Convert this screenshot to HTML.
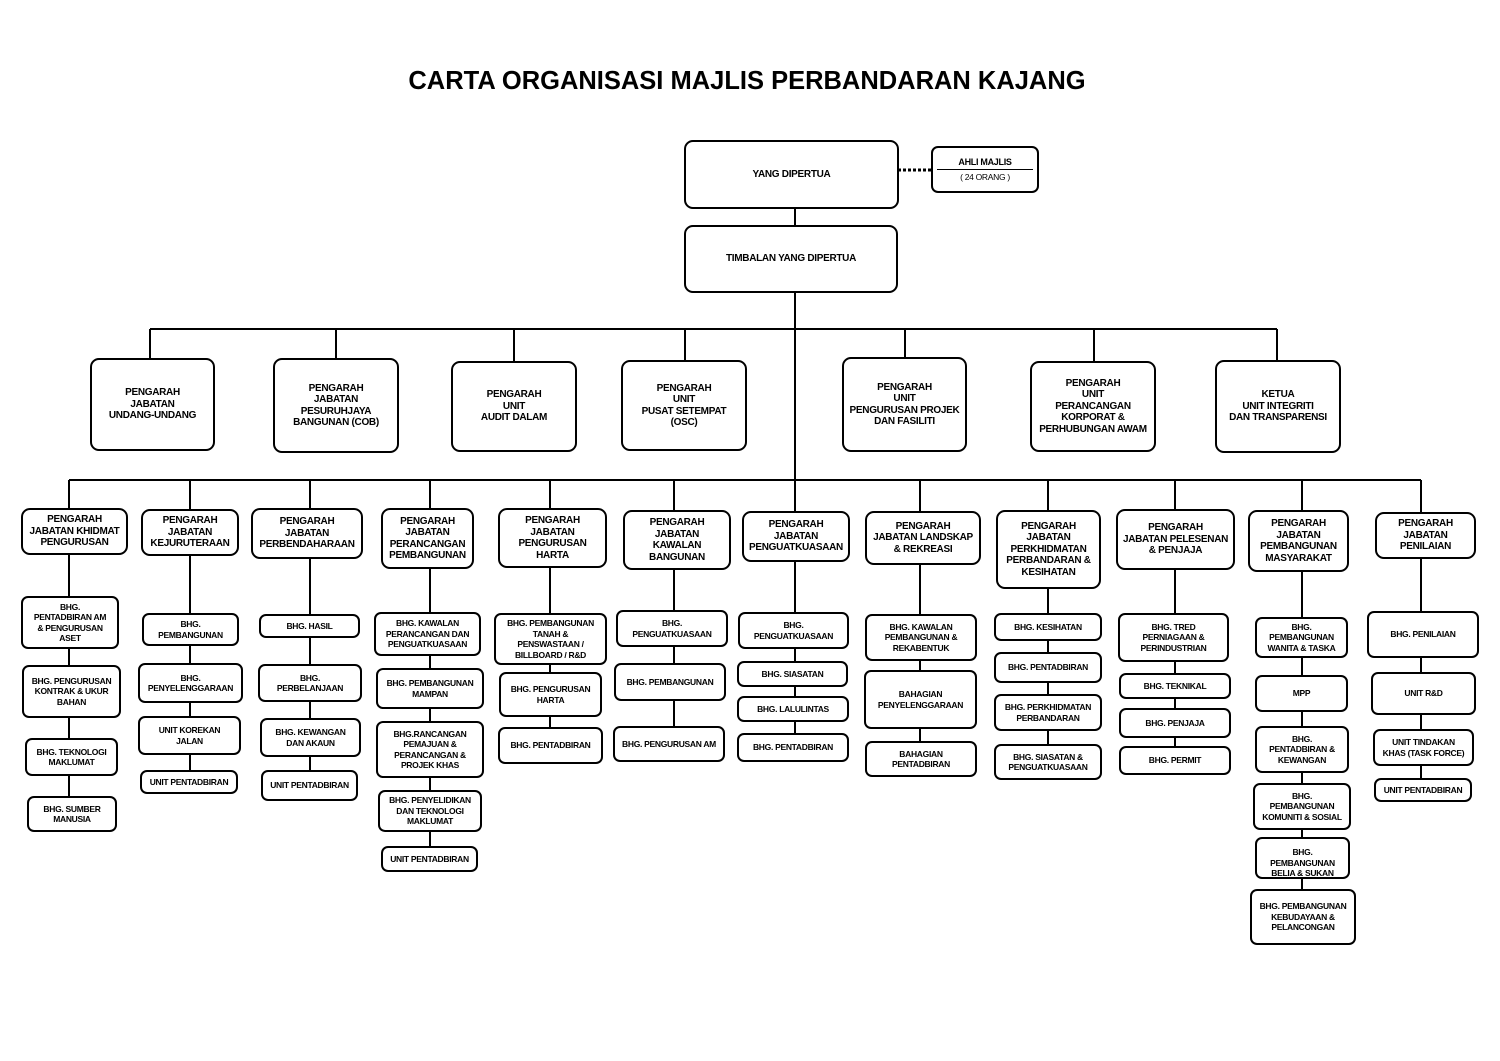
<!DOCTYPE html>
<html><head><meta charset="utf-8"><style>
body{margin:0;width:1500px;height:1061px;background:#fff;position:relative;overflow:hidden;font-family:"Liberation Sans",Arial,sans-serif;}
.b{position:absolute;box-sizing:border-box;border:2px solid #000;border-radius:7px;background:#fff;display:flex;align-items:center;justify-content:center;text-align:center;font-weight:bold;font-size:8.5px;line-height:10.5px;letter-spacing:-0.3px;overflow:hidden}
.h{font-size:10px;line-height:11.5px;border-radius:9px}
.t{position:absolute;left:-3px;width:1500px;top:67px;text-align:center;font-weight:bold;font-size:25.5px}
svg{position:absolute;left:0;top:0}
</style></head><body>
<svg width="1500" height="1061"><g stroke="#000" stroke-width="2" fill="none">
<line x1="898" y1="170" x2="931" y2="170" stroke-dasharray="3,2" stroke-width="3"/>
<line x1="795" y1="208" x2="795" y2="480"/>
<line x1="150" y1="329" x2="1277" y2="329"/>
<line x1="150" y1="329" x2="150" y2="358"/><line x1="336" y1="329" x2="336" y2="358"/><line x1="514" y1="329" x2="514" y2="361"/><line x1="685" y1="329" x2="685" y2="360"/><line x1="905" y1="329" x2="905" y2="357"/><line x1="1094" y1="329" x2="1094" y2="361"/><line x1="1277" y1="329" x2="1277" y2="360"/>
<line x1="69" y1="480" x2="1421" y2="480"/>
<line x1="69" y1="480" x2="69" y2="800"/><line x1="190" y1="480" x2="190" y2="772"/><line x1="310" y1="480" x2="310" y2="772"/><line x1="430" y1="480" x2="430" y2="848"/><line x1="550" y1="480" x2="550" y2="730"/><line x1="674" y1="480" x2="674" y2="728"/><line x1="795" y1="480" x2="795" y2="735"/><line x1="920" y1="480" x2="920" y2="743"/><line x1="1048" y1="480" x2="1048" y2="746"/><line x1="1175" y1="480" x2="1175" y2="748"/><line x1="1302" y1="480" x2="1302" y2="891"/><line x1="1421" y1="480" x2="1421" y2="780"/>
</g></svg>
<div class="t">CARTA ORGANISASI MAJLIS PERBANDARAN KAJANG</div>
<div class="b h" style="left:684px;top:140px;width:215px;height:69px">YANG DIPERTUA</div>
<div class="b" style="left:931px;top:146px;width:108px;height:47px;flex-direction:column;font-weight:normal"><b style="font-size:9px">AHLI MAJLIS</b><div style="width:96px;border-top:1px solid #000;margin:2px 0"></div><span>( 24 ORANG )</span></div>
<div class="b h" style="left:684px;top:225px;width:214px;height:68px">TIMBALAN YANG DIPERTUA</div>
<div class="b h" style="left:90px;top:358px;width:125px;height:93px">PENGARAH<br>JABATAN<br>UNDANG-UNDANG</div>
<div class="b h" style="left:273px;top:358px;width:126px;height:95px">PENGARAH<br>JABATAN<br>PESURUHJAYA<br>BANGUNAN (COB)</div>
<div class="b h" style="left:451px;top:361px;width:126px;height:91px">PENGARAH<br>UNIT<br>AUDIT DALAM</div>
<div class="b h" style="left:621px;top:360px;width:126px;height:91px">PENGARAH<br>UNIT<br>PUSAT SETEMPAT<br>(OSC)</div>
<div class="b h" style="left:842px;top:357px;width:125px;height:95px">PENGARAH<br>UNIT<br>PENGURUSAN PROJEK<br>DAN FASILITI</div>
<div class="b h" style="left:1030px;top:361px;width:126px;height:91px">PENGARAH<br>UNIT<br>PERANCANGAN<br>KORPORAT &amp;<br>PERHUBUNGAN AWAM</div>
<div class="b h" style="left:1215px;top:360px;width:126px;height:93px">KETUA<br>UNIT INTEGRITI<br>DAN TRANSPARENSI</div>

<div class="b h" style="left:21px;top:508px;width:107px;height:47px">PENGARAH<br>JABATAN KHIDMAT<br>PENGURUSAN</div>
<div class="b h" style="left:141px;top:509px;width:98px;height:47px">PENGARAH<br>JABATAN<br>KEJURUTERAAN</div>
<div class="b h" style="left:251px;top:508px;width:112px;height:51px">PENGARAH<br>JABATAN<br>PERBENDAHARAAN</div>
<div class="b h" style="left:381px;top:508px;width:93px;height:61px">PENGARAH<br>JABATAN<br>PERANCANGAN<br>PEMBANGUNAN</div>
<div class="b h" style="left:498px;top:508px;width:109px;height:60px">PENGARAH<br>JABATAN<br>PENGURUSAN<br>HARTA</div>
<div class="b h" style="left:623px;top:510px;width:108px;height:60px">PENGARAH<br>JABATAN<br>KAWALAN<br>BANGUNAN</div>
<div class="b h" style="left:742px;top:511px;width:108px;height:51px">PENGARAH<br>JABATAN<br>PENGUATKUASAAN</div>
<div class="b h" style="left:865px;top:511px;width:116px;height:54px">PENGARAH<br>JABATAN LANDSKAP<br>&amp; REKREASI</div>
<div class="b h" style="left:996px;top:510px;width:105px;height:79px">PENGARAH<br>JABATAN<br>PERKHIDMATAN<br>PERBANDARAN &amp;<br>KESIHATAN</div>
<div class="b h" style="left:1116px;top:509px;width:119px;height:61px">PENGARAH<br>JABATAN PELESENAN<br>&amp; PENJAJA</div>
<div class="b h" style="left:1248px;top:510px;width:101px;height:62px">PENGARAH<br>JABATAN<br>PEMBANGUNAN<br>MASYARAKAT</div>
<div class="b h" style="left:1375px;top:512px;width:101px;height:47px">PENGARAH<br>JABATAN<br>PENILAIAN</div>

<div class="b" style="left:21px;top:596px;width:98px;height:53px">BHG.<br>PENTADBIRAN AM<br>&amp; PENGURUSAN<br>ASET</div>
<div class="b" style="left:22px;top:665px;width:99px;height:53px">BHG. PENGURUSAN<br>KONTRAK &amp; UKUR<br>BAHAN</div>
<div class="b" style="left:25px;top:738px;width:93px;height:38px">BHG. TEKNOLOGI<br>MAKLUMAT</div>
<div class="b" style="left:27px;top:796px;width:90px;height:36px">BHG. SUMBER<br>MANUSIA</div>

<div class="b" style="left:142px;top:613px;width:97px;height:33px">BHG.<br>PEMBANGUNAN</div>
<div class="b" style="left:138px;top:663px;width:105px;height:40px">BHG.<br>PENYELENGGARAAN</div>
<div class="b" style="left:138px;top:716px;width:103px;height:39px">UNIT KOREKAN<br>JALAN</div>
<div class="b" style="left:140px;top:770px;width:98px;height:24px">UNIT PENTADBIRAN</div>

<div class="b" style="left:259px;top:614px;width:101px;height:24px">BHG. HASIL</div>
<div class="b" style="left:258px;top:664px;width:104px;height:38px">BHG.<br>PERBELANJAAN</div>
<div class="b" style="left:260px;top:718px;width:101px;height:39px">BHG. KEWANGAN<br>DAN AKAUN</div>
<div class="b" style="left:261px;top:770px;width:97px;height:31px">UNIT PENTADBIRAN</div>

<div class="b" style="left:374px;top:612px;width:107px;height:44px">BHG. KAWALAN<br>PERANCANGAN DAN<br>PENGUATKUASAAN</div>
<div class="b" style="left:376px;top:668px;width:108px;height:41px">BHG. PEMBANGUNAN<br>MAMPAN</div>
<div class="b" style="left:376px;top:721px;width:108px;height:57px">BHG.RANCANGAN<br>PEMAJUAN &amp;<br>PERANCANGAN &amp;<br>PROJEK KHAS</div>
<div class="b" style="left:378px;top:790px;width:104px;height:42px">BHG. PENYELIDIKAN<br>DAN TEKNOLOGI<br>MAKLUMAT</div>
<div class="b" style="left:381px;top:846px;width:97px;height:26px">UNIT PENTADBIRAN</div>

<div class="b" style="left:494px;top:613px;width:113px;height:52px">BHG. PEMBANGUNAN<br>TANAH &amp;<br>PENSWASTAAN /<br>BILLBOARD / R&amp;D</div>
<div class="b" style="left:499px;top:672px;width:103px;height:45px">BHG. PENGURUSAN<br>HARTA</div>
<div class="b" style="left:498px;top:727px;width:105px;height:37px">BHG. PENTADBIRAN</div>

<div class="b" style="left:616px;top:610px;width:112px;height:37px">BHG.<br>PENGUATKUASAAN</div>
<div class="b" style="left:614px;top:663px;width:112px;height:38px">BHG. PEMBANGUNAN</div>
<div class="b" style="left:613px;top:726px;width:112px;height:36px">BHG. PENGURUSAN AM</div>

<div class="b" style="left:738px;top:612px;width:111px;height:37px">BHG.<br>PENGUATKUASAAN</div>
<div class="b" style="left:737px;top:661px;width:111px;height:26px">BHG. SIASATAN</div>
<div class="b" style="left:737px;top:696px;width:112px;height:26px">BHG. LALULINTAS</div>
<div class="b" style="left:737px;top:733px;width:112px;height:29px">BHG. PENTADBIRAN</div>

<div class="b" style="left:865px;top:614px;width:112px;height:47px">BHG. KAWALAN<br>PEMBANGUNAN &amp;<br>REKABENTUK</div>
<div class="b" style="left:864px;top:670px;width:113px;height:59px">BAHAGIAN<br>PENYELENGGARAAN</div>
<div class="b" style="left:865px;top:741px;width:112px;height:36px">BAHAGIAN<br>PENTADBIRAN</div>

<div class="b" style="left:994px;top:613px;width:108px;height:28px">BHG. KESIHATAN</div>
<div class="b" style="left:994px;top:652px;width:108px;height:31px">BHG. PENTADBIRAN</div>
<div class="b" style="left:994px;top:694px;width:108px;height:37px">BHG. PERKHIDMATAN<br>PERBANDARAN</div>
<div class="b" style="left:994px;top:744px;width:108px;height:36px">BHG. SIASATAN &amp;<br>PENGUATKUASAAN</div>

<div class="b" style="left:1118px;top:613px;width:111px;height:49px">BHG. TRED<br>PERNIAGAAN &amp;<br>PERINDUSTRIAN</div>
<div class="b" style="left:1119px;top:673px;width:112px;height:26px">BHG. TEKNIKAL</div>
<div class="b" style="left:1119px;top:708px;width:112px;height:30px">BHG. PENJAJA</div>
<div class="b" style="left:1119px;top:746px;width:112px;height:29px">BHG. PERMIT</div>

<div class="b" style="left:1255px;top:617px;width:93px;height:41px">BHG.<br>PEMBANGUNAN<br>WANITA &amp; TASKA</div>
<div class="b" style="left:1255px;top:675px;width:93px;height:37px">MPP</div>
<div class="b" style="left:1255px;top:726px;width:94px;height:47px">BHG.<br>PENTADBIRAN &amp;<br>KEWANGAN</div>
<div class="b" style="left:1253px;top:783px;width:98px;height:47px">BHG.<br>PEMBANGUNAN<br>KOMUNITI &amp; SOSIAL</div>
<div class="b" style="left:1255px;top:837px;width:95px;height:42px;align-items:flex-start;padding-top:8px">BHG.<br>PEMBANGUNAN<br>BELIA &amp; SUKAN</div>
<div class="b" style="left:1250px;top:889px;width:106px;height:56px">BHG. PEMBANGUNAN<br>KEBUDAYAAN &amp;<br>PELANCONGAN</div>

<div class="b" style="left:1367px;top:611px;width:112px;height:47px">BHG. PENILAIAN</div>
<div class="b" style="left:1371px;top:672px;width:105px;height:43px">UNIT R&amp;D</div>
<div class="b" style="left:1373px;top:729px;width:101px;height:37px">UNIT TINDAKAN<br>KHAS (TASK FORCE)</div>
<div class="b" style="left:1374px;top:778px;width:98px;height:24px">UNIT PENTADBIRAN</div>
</body></html>
